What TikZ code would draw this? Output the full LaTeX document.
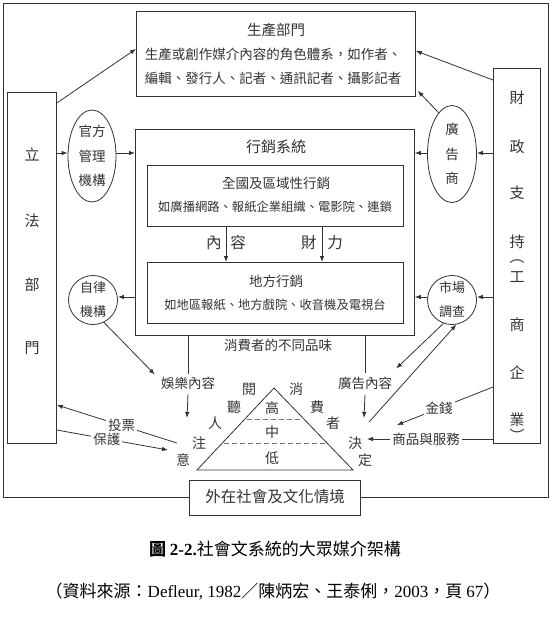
\documentclass[tikz,border=0pt]{standalone}
\usepackage{fontspec}
\setmainfont{Noto Sans CJK TC}
\newfontfamily\latinfont{Liberation Serif}
\usetikzlibrary{arrows.meta,calc,shapes.geometric}

\begin{document}
\begin{tikzpicture}[x=1pt,y=-1pt,>={Latex[length=6pt,width=4.5pt]},
  conn/.style={draw=black!80,line width=0.8pt},
  box/.style={conn,fill=white,inner sep=0pt,anchor=north west},
  oval/.style={conn,ellipse,fill=white,inner sep=0pt,align=center,text=black!80,font=\fontsize{13.5}{24.5}\selectfont},
  ring/.style={conn,circle,fill=white,inner sep=0pt,minimum size=49pt,align=center,text=black!80,font=\fontsize{13}{24}\selectfont},
  txt/.style={inner sep=0pt,text=black!80,font=\fontsize{13.5}{16}\selectfont},
  small/.style={txt,font=\fontsize{12.3}{15}\selectfont},
  big/.style={txt,font=\fontsize{15}{18}\selectfont},
  lbl/.style={txt,fill=white,inner sep=2pt},
  dsh/.style={draw=black!55,line width=0.8pt,dash pattern=on 5pt off 3pt},
  captxt/.style={inner sep=0pt,text=black,font=\fontsize{17}{20}\selectfont}]
\useasboundingbox (0,0) rectangle (555,624);
\draw[conn] (3,3) rectangle (548,497);

\node[box,minimum width=279pt,minimum height=85pt] (prod) at (136,11) {};
\node[txt,font=\fontsize{14.5}{17}\selectfont] (prodt) at (276,30) {生產部門};
\node[txt] (prod1) at (273,54) {生產或創作媒介內容的角色體系，如作者、};
\node[txt] (prod2) at (273,78) {編輯、發行人、記者、通訊記者、攝影記者};

\node[box,minimum width=279pt,minimum height=206pt] (mkt) at (135,129) {};
\node[big] (mktt) at (276,147) {行銷系統};
\node[box,minimum width=256pt,minimum height=61pt] (nat) at (147,165) {};
\node[txt] (natt) at (276,183) {全國及區域性行銷};
\node[small] (natl) at (275,207) {如廣播網路、報紙企業組織、電影院、連鎖};
\node[box,minimum width=256pt,minimum height=61pt] (loc) at (147,262) {};
\node[txt] (loct) at (276,281) {地方行銷};
\node[small] (locl) at (275,305) {如地區報紙、地方戲院、收音機及電視台};
\node[big,font=\fontsize{15.5}{18}\selectfont] (cont) at (226,243) {內\hspace{9pt}容};
\node[big,font=\fontsize{15.5}{18}\selectfont] (fund) at (322,243) {財\hspace{11pt}力};
\draw[conn,->] (nat.south -| cont) -- (loc.north -| cont);
\draw[conn,->] (nat.south -| fund) -- (loc.north -| fund);

\node[box,minimum width=49pt,minimum height=351pt] (leg) at (7,92) {};
\foreach \c/\y [count=\i] in {立/154,法/221,部/285,門/348}
  \node[big] (leg\i) at (32,\y) {\c};
\node[box,minimum width=47pt,minimum height=375pt] (fin) at (493,68) {};
\foreach \c/\y [count=\i] in {財/98,政/147,支/193,持/242,︵/262,工/277,商/325,企/373,業/420,︶/435}
  \node[big] (fin\i) at (517,\y) {\c};

\node[oval,minimum width=48pt,minimum height=92pt] (gov) at (92,156) {官方\\管理\\機構};
\node[oval,minimum width=49pt,minimum height=97pt] (ad) at (452,154) {廣\\告\\商};
\node[ring] (self) at (93,300) {自律\\機構};
\node[ring] (mr) at (452,300) {市場\\調查};

\draw[conn,->] (leg.east |- 0,153) -- (gov.west |- 0,153);
\draw[conn,->] (gov.east |- 0,153) -- (mkt.west |- 0,153);
\draw[conn,->] ([yshift=-11pt]leg.north east) -- ([yshift=5pt]prod.west);
\draw[conn,->] (fin.west |- 0,153) -- (ad.east |- 0,153);
\draw[conn,->] (ad.west |- 0,153) -- (mkt.east |- 0,153);
\draw[conn,->] ([yshift=-12pt]fin.north west) -- ([yshift=3pt]prod.east);
\draw[conn,->] (ad.108) -- ([xshift=2pt,yshift=6pt]prod.south east);
\draw[conn,->] (mkt.west |- 0,297) -- (self.east |- 0,297);
\draw[conn,->] (fin.west |- 0,297) -- (mr.east |- 0,297);
\draw[conn,->] (mr.west |- 0,297) -- (mkt.east |- 0,297);

\node[txt] (taste) at (278,345) {消費者的不同品味};
\node[txt] (ent) at (188,383) {娛樂內容};
\node[txt] (adc) at (365,383) {廣告內容};
\coordinate (entend) at (187,418);
\coordinate (adcend) at (364,418);
\draw[conn] (mkt.south -| ent) -- ([yshift=3pt]ent.north);
\draw[conn] (mkt.south -| adc) -- ([yshift=3pt]adc.north);
\draw[conn,->] ([yshift=-5pt]ent.south) -- (entend);
\draw[conn,->] ([yshift=-5pt]adc.south) -- (adcend);
\draw[conn,->] (self.-64) -- ([xshift=-6pt,yshift=2pt]ent.north west);
\draw[conn,->] (mr.250) -- ([xshift=4pt,yshift=8pt]adc.north east);
\coordinate (mrs) at (369,422);
\draw[conn,->] (mrs) -- (mr.-80);

\coordinate (apex) at (274,388);
\coordinate (bl) at (197,470);
\coordinate (br) at (353,470);
\draw[conn] (apex) -- (bl) -- (br) -- cycle;
\draw[dsh,shorten <=2pt,shorten >=2pt] ($(apex)!0.38!(bl)$) -- ($(apex)!0.38!(br)$);
\draw[dsh,shorten <=2pt,shorten >=2pt] ($(apex)!0.67!(bl)$) -- ($(apex)!0.67!(br)$);
\node[txt,font=\fontsize{14}{16}\selectfont] (hi) at (272,408) {高};
\node[txt,font=\fontsize{14}{16}\selectfont] (md) at (272,432) {中};
\node[txt,font=\fontsize{14}{16}\selectfont] (lo) at (272,458) {低};
\foreach \c/\x/\y [count=\i] in {閱/249/389,聽/234/407,人/215/423,注/199/443,意/183/460}
  \node[txt,font=\fontsize{14}{16}\selectfont] (aud\i) at (\x,\y) {\c};
\foreach \c/\x/\y [count=\i] in {消/296/389,費/317/407,者/333/423,決/355/443,定/365/460}
  \node[txt,font=\fontsize{14}{16}\selectfont] (con\i) at (\x,\y) {\c};

\coordinate (votes) at (177,443);
\coordinate (prote) at (168,450);
\coordinate (moneye) at (397,425);
\coordinate (goodse) at (367,439);
\draw[conn,->] (votes) -- node[lbl,pos=0.46] (vote) {投票} (leg.east |- 0,405);
\draw[conn,->] (leg.east |- 0,430) -- node[lbl,pos=0.45] (prot) {保護} (prote);
\draw[conn,->] (fin.west |- 0,387) -- node[lbl,pos=0.56] (money) {金錢} (moneye);
\draw[conn,->] (fin.west |- 0,439) -- node[lbl,pos=0.53] (goods) {商品與服務} (goodse);

\node[box,minimum width=171pt,minimum height=35pt] (ext) at (189,480) {};
\node[big,font=\fontsize{15.5}{18}\selectfont] (extt) at (275,497) {外在社會及文化情境};

\node[captxt] (title) at (275,549) {\textbf{圖 {\latinfont 2-2.}}社會文系統的大眾媒介架構};
\node[captxt] (src) at (273,592) {（資料來源：{\latinfont Defleur, 1982}／陳炳宏、王泰俐，{\latinfont 2003}，頁 {\latinfont 67}）};
\end{tikzpicture}
\end{document}
